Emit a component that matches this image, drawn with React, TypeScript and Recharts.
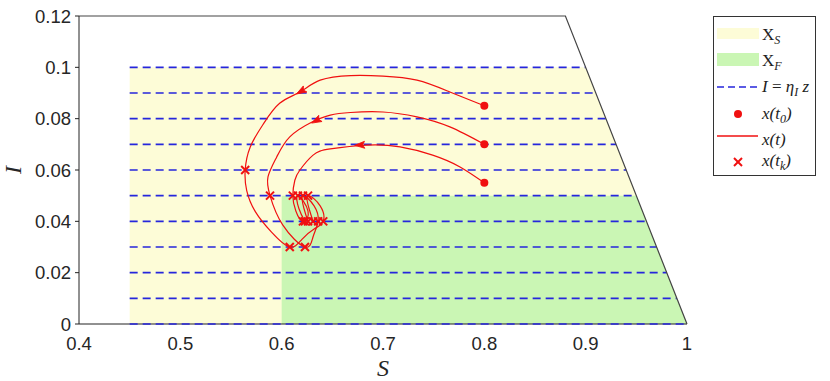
import React from 'react';
import { ComposedChart, Area, Line, Scatter, XAxis, YAxis, Label } from 'recharts';

// axis ticks
const S_TICKS = [0.4, 0.5, 0.6, 0.7, 0.8, 0.9, 1];
const I_TICKS = [0, 0.02, 0.04, 0.06, 0.08, 0.1, 0.12];

// levels I = eta_I * z
const LEVELS = [0, 0.01, 0.02, 0.03, 0.04, 0.05, 0.06, 0.07, 0.08, 0.09, 0.1];

// regions (upper edge, area fills down to I = 0)
const SAFE_SET = [
  { S: 0.45, I: 0.1 },
  { S: 0.9, I: 0.1 },
  { S: 1, I: 0 },
];
const FINAL_SET = [
  { S: 0.6, I: 0.05 },
  { S: 0.95, I: 0.05 },
  { S: 1, I: 0 },
];
// state space border S + I <= 1
const BORDER = [
  { S: 0.4, I: 0.12 },
  { S: 0.88, I: 0.12 },
  { S: 1, I: 0 },
];
const BASELINE = [
  { S: 0.4, I: 0 },
  { S: 1, I: 0 },
];

// trajectories, tk marks the sampling instants x(t_k)
const TRAJ_A = [
  { S: 0.8, I: 0.085 },
  { S: 0.766, I: 0.0904 },
  { S: 0.7335, I: 0.095 },
  { S: 0.7, I: 0.0966 },
  { S: 0.668, I: 0.0968 },
  { S: 0.638, I: 0.095 },
  { S: 0.618, I: 0.0904 },
  { S: 0.598, I: 0.086 },
  { S: 0.582, I: 0.078 },
  { S: 0.569, I: 0.069 },
  { S: 0.564, I: 0.06, tk: true },
  { S: 0.5655, I: 0.052 },
  { S: 0.574, I: 0.0438 },
  { S: 0.59, I: 0.0358 },
  { S: 0.608, I: 0.03, tk: true },
  { S: 0.62, I: 0.033 },
  { S: 0.632, I: 0.037 },
  { S: 0.641, I: 0.04, tk: true },
  { S: 0.638, I: 0.046 },
  { S: 0.626, I: 0.05, tk: true },
  { S: 0.627, I: 0.045 },
  { S: 0.631, I: 0.04, tk: true },
];
const TRAJ_B = [
  { S: 0.8, I: 0.07 },
  { S: 0.766, I: 0.0768 },
  { S: 0.7335, I: 0.0807 },
  { S: 0.7, I: 0.0826 },
  { S: 0.668, I: 0.0824 },
  { S: 0.648, I: 0.0814 },
  { S: 0.63, I: 0.0787 },
  { S: 0.608, I: 0.0729 },
  { S: 0.595, I: 0.065 },
  { S: 0.5865, I: 0.0573 },
  { S: 0.5885, I: 0.05, tk: true },
  { S: 0.601, I: 0.0386 },
  { S: 0.623, I: 0.03, tk: true },
  { S: 0.631, I: 0.034 },
  { S: 0.636, I: 0.04, tk: true },
  { S: 0.632, I: 0.046 },
  { S: 0.621, I: 0.05, tk: true },
  { S: 0.622, I: 0.045 },
  { S: 0.626, I: 0.04, tk: true },
];
const TRAJ_C = [
  { S: 0.8, I: 0.055 },
  { S: 0.776, I: 0.0612 },
  { S: 0.749, I: 0.0658 },
  { S: 0.7168, I: 0.069 },
  { S: 0.684, I: 0.0697 },
  { S: 0.648, I: 0.0682 },
  { S: 0.631, I: 0.0658 },
  { S: 0.618, I: 0.06 },
  { S: 0.613, I: 0.056 },
  { S: 0.611, I: 0.05, tk: true },
  { S: 0.614, I: 0.044 },
  { S: 0.621, I: 0.04, tk: true },
  { S: 0.626, I: 0.044 },
  { S: 0.616, I: 0.05, tk: true },
  { S: 0.617, I: 0.045 },
  { S: 0.623, I: 0.04, tk: true },
];
const TRAJECTORIES = [TRAJ_A, TRAJ_B, TRAJ_C];

// direction arrows on the flow, heading in screen degrees
const ARROWS = [
  { S: 0.618, I: 0.0904, heading: 150 },
  { S: 0.633, I: 0.079, heading: 152 },
  { S: 0.676, I: 0.0697, heading: 177 },
];

const RED = '#f01010';
const BLUE = '#2626dc';
const YELLOW = '#fdfcd7';
const GREEN = '#caf6b4';

const tickStyle = { fontFamily: '"Liberation Sans", Arial, sans-serif', fontSize: 18.5, fill: '#262626' };
const fmt = (v: number) => String(+v.toFixed(2));

const starts = TRAJECTORIES.map((t) => t[0]);
const samples = TRAJECTORIES.flatMap((t) => t.filter((p) => p.tk));
const levelLines = LEVELS.map((l) => [
  { S: SAFE_SET[0].S, I: l },
  { S: 1 - l, I: l },
]);

const Cross = (props: any) => {
  const { cx, cy } = props;
  const r = 4;
  return (
    <g stroke={RED} strokeWidth={2}>
      <line x1={cx - r} y1={cy - r} x2={cx + r} y2={cy + r} />
      <line x1={cx - r} y1={cy + r} x2={cx + r} y2={cy - r} />
    </g>
  );
};

const Dot = (props: any) => <circle cx={props.cx} cy={props.cy} r={4} fill={RED} />;

const Arrow = (props: any) => {
  const { cx, cy, payload } = props;
  return (
    <g transform={`translate(${cx},${cy}) rotate(${payload.heading})`}>
      <path d="M4,0 L-6,-3.5 L-4,0 L-6,3.5 Z" fill={RED} stroke={RED} strokeWidth={0.8} />
    </g>
  );
};

function ChartLegend() {
  const serif = 'Liberation Serif, Times New Roman, serif';
  return (
    <svg width={104} height={161} style={{ position: 'absolute', left: 713, top: 16 }}>
      <rect x={0.5} y={0.5} width={102} height={159} fill="#fff" stroke="#333" />
      <g fontFamily={serif} fontSize={17} fill="#222">
        <rect x={4} y={12} width={42} height={11} fill={YELLOW} />
        <text x={49} y={24}>
          X<tspan dy={4} fontSize={12} fontStyle="italic">S</tspan>
        </text>
        <rect x={4} y={37} width={42} height={13} fill={GREEN} />
        <text x={49} y={50}>
          X<tspan dy={4} fontSize={12} fontStyle="italic">F</tspan>
        </text>
        <line x1={4} y1={71} x2={45} y2={71} stroke={BLUE} strokeWidth={1.5} strokeDasharray="7 4" />
        <text x={49} y={76}>
          <tspan fontStyle="italic">I</tspan> = <tspan fontStyle="italic">η</tspan>
          <tspan dy={4} fontSize={12} fontStyle="italic">I</tspan>
          <tspan dy={-4} fontStyle="italic"> z</tspan>
        </text>
        <circle cx={25} cy={98} r={4} fill={RED} />
        <text x={49} y={103} fontStyle="italic">
          x(t<tspan dy={4} fontSize={12}>0</tspan>
          <tspan dy={-4}>)</tspan>
        </text>
        <line x1={4} y1={120} x2={45} y2={120} stroke={RED} strokeWidth={1.5} />
        <text x={49} y={129} fontStyle="italic">
          x(t)
        </text>
        <g stroke={RED} strokeWidth={2}>
          <line x1={21} y1={142} x2={29} y2={150} />
          <line x1={21} y1={150} x2={29} y2={142} />
        </g>
        <text x={49} y={150} fontStyle="italic">
          x(t<tspan dy={4} fontSize={12}>k</tspan>
          <tspan dy={-4}>)</tspan>
        </text>
      </g>
    </svg>
  );
}

export default function App() {
  const serif = 'Liberation Serif, Times New Roman, serif';
  return (
    <div style={{ position: 'absolute', left: 0, top: 0, width: 830, height: 381, background: '#fff' }}>
      <ComposedChart width={830} height={381} margin={{ top: 16, right: 143, left: 0, bottom: 0 }}>
        <XAxis
          type="number"
          dataKey="S"
          domain={[0.4, 1]}
          ticks={S_TICKS}
          interval={0}
          tickFormatter={fmt}
          tick={tickStyle}
          tickLine={false}
          tickSize={6}
          tickMargin={7}
          height={57}
          axisLine={false}
        >
          <Label
            content={({ viewBox }: any) => (
              <text
                x={viewBox.x + viewBox.width / 2}
                y={viewBox.y + 52}
                textAnchor="middle"
                fontFamily={serif}
                fontStyle="italic"
                fontSize={24}
                fill="#262626"
              >
                S
              </text>
            )}
          />
        </XAxis>
        <YAxis
          type="number"
          dataKey="I"
          domain={[0, 0.12]}
          ticks={I_TICKS}
          interval={0}
          tickFormatter={fmt}
          tick={tickStyle}
          tickSize={4}
          tickMargin={4}
          tickLine={{ stroke: '#222' }}
          width={79}
          axisLine={{ stroke: '#222' }}
        >
          <Label
            content={({ viewBox }: any) => {
              const x = 21;
              const y = viewBox.y + viewBox.height / 2;
              return (
                <text
                  x={x}
                  y={y}
                  transform={`rotate(-90 ${x} ${y})`}
                  textAnchor="middle"
                  fontFamily={serif}
                  fontStyle="italic"
                  fontSize={24}
                  fill="#262626"
                >
                  I
                </text>
              );
            }}
          />
        </YAxis>

        <Area
          data={SAFE_SET}
          dataKey="I"
          type="linear"
          baseValue={0}
          fill={YELLOW}
          fillOpacity={1}
          stroke="none"
          isAnimationActive={false}
        />
        <Area
          data={FINAL_SET}
          dataKey="I"
          type="linear"
          baseValue={0}
          fill={GREEN}
          fillOpacity={1}
          stroke="none"
          isAnimationActive={false}
        />

        <Line
          data={BASELINE}
          dataKey="I"
          type="linear"
          stroke="#222"
          strokeWidth={1}
          dot={false}
          activeDot={false}
          isAnimationActive={false}
        />

        {levelLines.map((d, i) => (
          <Line
            key={`lv${i}`}
            data={d}
            dataKey="I"
            type="linear"
            stroke={BLUE}
            strokeWidth={1.6}
            strokeDasharray="8 5"
            dot={false}
            activeDot={false}
            isAnimationActive={false}
          />
        ))}

        <Line
          data={BORDER}
          dataKey="I"
          type="linear"
          stroke="#444"
          strokeWidth={1.2}
          dot={false}
          activeDot={false}
          isAnimationActive={false}
        />

        {TRAJECTORIES.map((d, i) => (
          <Line
            key={`tr${i}`}
            data={d}
            dataKey="I"
            type="natural"
            stroke={RED}
            strokeWidth={1.2}
            dot={false}
            activeDot={false}
            isAnimationActive={false}
          />
        ))}

        <Scatter data={ARROWS} dataKey="I" shape={Arrow} isAnimationActive={false} />
        <Scatter data={starts} dataKey="I" shape={Dot} isAnimationActive={false} />
        <Scatter data={samples} dataKey="I" shape={Cross} isAnimationActive={false} />
      </ComposedChart>
      <ChartLegend />
    </div>
  );
}
